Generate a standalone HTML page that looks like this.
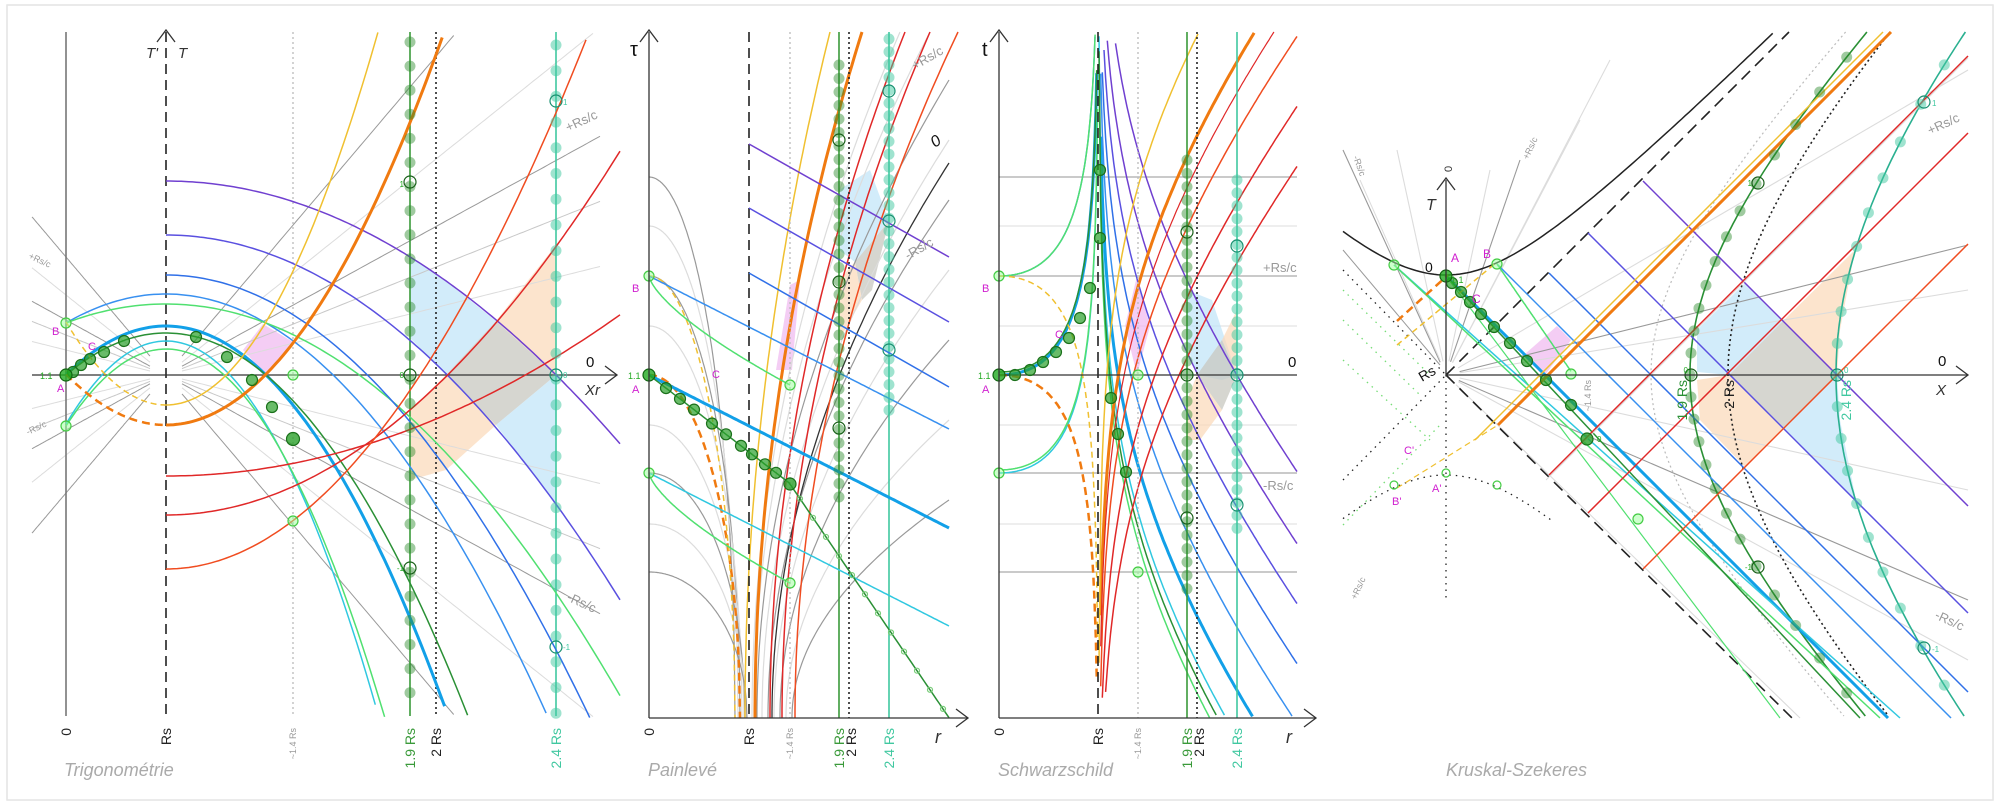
<!DOCTYPE html>
<html><head><meta charset="utf-8">
<style>
html,body{margin:0;padding:0;background:#fff;}
svg{display:block;}
text{font-family:"Liberation Sans",sans-serif;}
</style></head>
<body>
<svg id="s" width="2000" height="805" viewBox="0 0 2000 805" xmlns="http://www.w3.org/2000/svg"></svg>
<script>
var o=[];
function L(x1,y1,x2,y2,c,w,d){o.push('<line x1="'+x1+'" y1="'+y1+'" x2="'+x2+'" y2="'+y2+'" stroke="'+c+'" stroke-width="'+(w||1)+'"'+(d?' stroke-dasharray="'+d+'"':'')+'/>');}
function PL(pts,c,w,d,f,op){var s=pts.map(function(p){return p[0].toFixed(1)+','+p[1].toFixed(1)}).join(' ');
 if(f)o.push('<polygon points="'+s+'" fill="'+f+'" fill-opacity="'+(op||1)+'" stroke="none"/>');
 else o.push('<polyline points="'+s+'" fill="none" stroke="'+c+'" stroke-width="'+(w||1)+'"'+(d?' stroke-dasharray="'+d+'"':'')+'/>');}
function F(f,x0,x1,c,w,d,ymin,ymax){ymin=ymin==null?32:ymin;ymax=ymax==null?718:ymax;var p=[],n=120;
 for(var i=0;i<=n;i++){var x=x0+(x1-x0)*i/n,y=f(x);if(isNaN(y))continue;if(y<ymin||y>ymax){if(p.length>1){PL(p,c,w,d);}p=[];continue;}p.push([x,y]);}
 if(p.length>1)PL(p,c,w,d);}
function C(x,y,r,f,st,op){o.push('<circle cx="'+x+'" cy="'+y+'" r="'+r+'" fill="'+(f||'none')+'" fill-opacity="'+(op==null?0.6:op)+'" stroke="'+(st||'none')+'" stroke-width="1.2"/>');}
function T(x,y,t,sz,c,extra){o.push('<text x="'+x+'" y="'+y+'" font-size="'+sz+'" fill="'+c+'" '+(extra||'')+'>'+t+'</text>');}
function RT(x,y,t,sz,c){o.push('<text transform="translate('+x+','+y+') rotate(-90)" text-anchor="end" font-size="'+sz+'" fill="'+c+'" dy="'+(sz*0.35)+'">'+t+'</text>');}
function AR(x,y,dir){ if(dir=='u')PL([[x-9,y+12],[x,y],[x+9,y+12]],'#333',1.3); else PL([[x-12,y-9],[x,y],[x-12,y+9]],'#333',1.3);}
var PUR='#7040d0',PUR2='#5a50e0',BL='#3070e8',BL2='#3890f0',TB='#12a0e8',GL='#50e070',DG='#2a9035',CY='#30c8e0',RD='#e02828',RO='#f04c20',OR='#f07a10',YE='#f0c030',GR='#999',LG='#dcdcdc',TE='#40c8a0',GC='#3a9a3a',MG='#d020d0';
o.push('<rect x="7" y="5" width="1986" height="795" fill="none" stroke="#e4e4e4" stroke-width="1.5"/>');

// ================= Panel 1 =================
(function(){
var cx=166,cy=375;
PL([[410,256],[446,281],[496,321],[446,375],[410,338]],0,0,0,'#bfe4f8',0.7);
PL([[496,321],[556,245],[556,375]],0,0,0,'#fbd9b8',0.7);
PL([[446,375],[496,321],[556,375],[496,425]],0,0,0,'#c8c8c0',0.75);
PL([[410,410],[446,375],[496,425],[446,470],[410,480]],0,0,0,'#fbd9b8',0.7);
PL([[496,425],[556,375],[556,505]],0,0,0,'#bfe4f8',0.7);
PL([[263,324],[293,342],[266,375],[243,350]],0,0,0,'#f0b8f0',0.7);
[[-1.18,GR],[-0.55,GR],[0.55,GR],[1.18,GR],[-0.8,LG],[-0.25,LG],[0.25,LG],[0.8,LG],[-0.4,'#c8c8c8'],[0.4,'#c8c8c8']].forEach(function(a){
 var m=a[0];F(function(x){return cy+m*(x-cx)},182,600,a[1],1);F(function(x){return cy+m*(x-cx)},32,150,a[1],1);});
L(66,32,66,716,'#777',1.6);
L(166,32,166,716,'#222',1.6,'10,6');AR(166,30,'u');
L(293,32,293,716,'#bbb',1.3,'2,3');
L(410,32,410,716,GC,1.6);
L(436,32,436,716,'#222',1.6,'2,3');
L(556,32,556,716,TE,1.6);
L(32,375,617,375,'#333',1.3);AR(617,375,'r');
function par(top,k,x0,c,w,d){F(function(x){return top+k*(x-cx)*(x-cx)},x0,620,c,w,d);}
par(294,0.0029,66,BL2,1.5);par(304,0.0019,66,GL,1.5);par(326,0.0049,66,TB,3);par(333,0.0042,66,DG,1.5);
par(341,0.0083,66,CY,1.5);par(349,0.0077,66,GL,1.5);
par(181,0.001275,166,PUR,1.5);par(235,0.00177,166,PUR2,1.5);par(275,0.002465,166,BL,1.5);
par(476,-0.000782,166,RD,1.5);par(515,-0.001765,166,RD,1.5);par(569,-0.003,166,RO,1.5);
par(425,-0.00508,166,OR,3);par(405,-0.0083,166,YE,1.5);
F(function(x){return 425-0.00508*(x-cx)*(x-cx)},66,166,OR,2.5,'8,5');
F(function(x){return 405-0.0083*(x-cx)*(x-cx)},66,166,YE,1.5,'6,4');
for(var y=42;y<716;y+=24.1){C(410,y,5.5,'#2a8a2a',null,0.45);}
[182,375,568].forEach(function(y){C(410,y,6,'none','#185f18',1)});
for(var y=45;y<716;y+=25.7){C(556,y,5.5,TE,null,0.5);}
[101,375,647].forEach(function(y){C(556,y,6,'none','#189070',1)});
[[73,372],[81,365],[90,359],[104,352],[124,341],[196,337],[227,357],[252,380],[272,407]].forEach(function(p){C(p[0],p[1],5.5,'#2aa02a','#1a701a',0.7)});
C(293,439,6.5,'#2aa02a','#1a701a',0.8);
C(66,323,5,'#9f9','#4c4',0.5);C(66,375,6,'#2a2','#161',0.8);C(66,426,5,'#9f9','#4c4',0.5);
C(293,375,5,'#9f9','#4c4',0.5);C(293,521,5,'#9f9','#4c4',0.5);
T(52,335,'B',11,MG);T(88,350,'C',11,MG);T(57,392,'A',11,MG);T(40,379,'1.1',9,'#2a2');
T(178,58,'T',15,'#333','font-family="Liberation Serif" font-style="italic"');
T(146,58,'T\'',15,'#333','font-family="Liberation Serif" font-style="italic"');
T(586,367,'0',15,'#111');T(585,395,'Xr',15,'#333','font-family="Liberation Serif" font-style="italic"');
o.push('<text transform="translate(568,132) rotate(-25)" font-size="13" fill="#999">+Rs/c</text>');
o.push('<text transform="translate(566,600) rotate(25)" font-size="13" fill="#999">-Rs/c</text>');
o.push('<text transform="translate(28,258) rotate(25)" font-size="9" fill="#999">+Rs/c</text>');
o.push('<text transform="translate(28,435) rotate(-25)" font-size="9" fill="#999">-Rs/c</text>');
T(404,187,'1',8,'#2a2','text-anchor="end"');T(404,378,'0',8,'#2a2','text-anchor="end"');T(404,571,'-1',8,'#2a2','text-anchor="end"');
T(563,105,'1',8,TE);T(563,378,'0',8,TE);T(563,650,'-1',8,TE);
RT(66,728,'0',14,'#222');RT(166,728,'Rs',14,'#222');RT(293,728,'~1.4 Rs',9,'#999');RT(410,728,'1.9 Rs',14,GC);RT(436,728,'2 Rs',14,'#222');RT(556,728,'2.4 Rs',14,TE);
T(64,776,'Trigonométrie',18,'#aaa','font-style="italic"');
})();

// ================= Panel 2 Painlevé =================
(function(){
var ax=649,rs=749;
PL([[839,190],[870,170],[889,221],[855,262],[839,250]],0,0,0,'#bfe4f8',0.7);
PL([[855,262],[889,221],[872,290],[862,300]],0,0,0,'#c8c8c0',0.75);
PL([[839,280],[855,262],[862,300],[839,340]],0,0,0,'#fbd9b8',0.7);
PL([[790,285],[800,280],[792,370],[776,370]],0,0,0,'#f0b8f0',0.7);
[[177,735,GR],[226,738,LG],[276,740,GR],[326,742,LG],[425,744,LG],[473,745,GR],[524,746,LG],[572,747,GR]].forEach(function(a){
 var y0=a[0],xe=a[1];F(function(x){var t=(x-ax)/(xe-ax);if(t>1)t=1;return y0+(718-y0)*(1-Math.sqrt(1-t*t));},ax,xe,a[2],1.2);});
function R(xb,xe,ye,c,w,d,p){var pts=[];p=p||2;for(var i=0;i<=80;i++){var s=i/80;pts.push([xb+(xe-xb)*Math.pow(s,p),718-(718-ye)*s]);}PL(pts,c,w,d);}
R(757,949,80,GR,1.2);R(762,949,140,LG,1.2);R(768,949,200,GR,1.2);R(774,949,270,LG,1.2);R(780,949,340,GR,1.2);R(786,949,420,LG,1.2);R(792,949,500,GR,1.2);
R(752,900,32,LG,1.2);R(754,930,32,LG,1.2);
R(772,949,163,'#333',1.3);
R(745,830,32,YE,1.5);R(755,862,32,OR,3);R(770,905,32,RD,1.5);R(782,930,32,RD,1.5);R(795,958,32,RO,1.5);
F(function(x){var t=(x-ax)/(740-ax);if(t>1)t=1;return 375+343*(1-Math.sqrt(1-t*t));},ax,740,OR,2.5,'8,5');
F(function(x){var t=(x-ax)/(735-ax);if(t>1)t=1;return 276+442*(1-Math.sqrt(1-t*t));},ax,735,YE,1.5,'6,4');
L(rs,32,rs,718,'#222',1.6,'10,6');
L(790,32,790,718,'#bbb',1.3,'2,3');
L(839,32,839,718,GC,1.6);
L(849,32,849,718,'#222',1.6,'2,3');
L(889,32,889,718,TE,1.6);
L(749,144,949,257,PUR,1.5);L(749,208,949,322,PUR2,1.5);L(749,273,949,387,BL,1.5);
F(function(x){return 276+(x-ax)*0.51},ax,949,BL2,1.5);
F(function(x){return 375+(x-ax)*0.51},ax,949,TB,3);
F(function(x){return 473+(x-ax)*0.51},ax,949,CY,1.5);
F(function(x){var t=(x-ax)/141;return 276+109*Math.pow(t,0.7);},ax,790,GL,1.5);
F(function(x){var t=(x-ax)/141;return 473+110*Math.pow(t,0.7);},ax,790,GL,1.5);
F(function(x){return x<790?375+(x-ax)*0.77:484+(x-790)*1.47},ax,949,DG,1.5);
for(var y=65;y<=500;y+=13.5)C(839,y,5.5,'#2a8a2a',null,0.45);
[140,282,428].forEach(function(y){C(839,y,6,'none','#185f18',1)});
for(var y=39;y<=415;y+=12.8)C(889,y,5.5,TE,null,0.5);
[91,221,350].forEach(function(y){C(889,y,6,'none','#189070',1)});
[666,680,694,712,726,741,752,765,776].forEach(function(x){C(x,375+(x-ax)*0.77,5.5,'#2aa02a','#1a701a',0.7)});
C(790,484,6,'#2aa02a','#1a701a',0.8);
for(var x=800;x<949;x+=13)C(x,484+(x-790)*1.47,2.5,'none','#7c7',1);
C(ax,276,5,'#9f9','#4c4',0.5);C(ax,375,6,'#2a2','#161',0.8);C(ax,473,5,'#9f9','#4c4',0.5);C(790,385,5,'#9f9','#4c4',0.5);C(790,583,5,'#9f9','#4c4',0.5);
L(ax,718,ax,32,'#333',1.3);AR(ax,30,'u');L(ax,718,968,718,'#333',1.3);AR(968,718,'r');
T(630,56,'τ',20,'#111','font-family="Liberation Serif"');T(935,743,'r',18,'#333','font-family="Liberation Serif" font-style="italic"');
T(632,292,'B',11,MG);T(712,378,'C',11,MG);T(632,393,'A',11,MG);T(628,379,'1.1',9,'#2a2');
o.push('<text transform="translate(935,148) rotate(-35)" font-size="16" fill="#111" font-style="italic">0</text>');
o.push('<text transform="translate(915,70) rotate(-30)" font-size="13" fill="#999">+Rs/c</text>');
o.push('<text transform="translate(908,260) rotate(-30)" font-size="13" fill="#999">-Rs/c</text>');
RT(ax,728,'0',14,'#222');RT(rs,728,'Rs',14,'#222');RT(790,728,'~1.4 Rs',9,'#999');RT(839,728,'1.9 Rs',14,GC);RT(851,728,'2 Rs',14,'#222');RT(889,728,'2.4 Rs',14,TE);
T(648,776,'Painlevé',18,'#aaa','font-style="italic"');
})();

// ================= Panel 3 Schwarzschild =================
(function(){
var ax=999,rs=1098,S=100;
function u(x){return (x-ax)/99.5;}
function rst(x){var q=u(x);return q+Math.log(Math.abs(q-1));}
[[177,'#aaa'],[226,'#e4e4e4'],[276,'#aaa'],[326,'#e4e4e4'],[425,'#e4e4e4'],[473,'#aaa'],[524,'#e4e4e4'],[572,'#aaa']].forEach(function(a){L(ax,a[0],1297,a[0],a[1],1.2)});
PL([[1187,290],[1212,300],[1237,375],[1222,380],[1197,375],[1187,345]],0,0,0,'#bfe4f8',0.7);
PL([[1197,375],[1222,340],[1237,375],[1222,410]],0,0,0,'#c8c8c0',0.75);
PL([[1187,400],[1197,375],[1222,410],[1200,440],[1187,440]],0,0,0,'#fbd9b8',0.7);
PL([[1222,340],[1237,310],[1237,375]],0,0,0,'#fbd9b8',0.7);
PL([[1137,276],[1150,326],[1137,375],[1125,326]],0,0,0,'#f0b8f0',0.7);
function IN(v,c,w,d,x0,x1){F(function(x){return 375-S*(v-rst(x))},x0,x1,c,w,d);}
function OUT(wv,c,w,d,x0,x1){F(function(x){return 375-S*(rst(x)-wv)},x0,x1,c,w,d);}
IN(-0.43,TB,3,0,1099,1297);IN(0.2,BL2,1.5,0,1099,1297);IN(0.8,BL,1.5,0,1099,1297);IN(1.4,PUR2,1.5,0,1099,1297);IN(2.0,PUR,1.5,0,1099,1297);IN(2.72,PUR,1.5,0,1099,1297);
IN(-0.9,CY,1.5,0,1099,1297);IN(-1.2,GL,1.5,0,1099,1297);IN(-1.05,DG,1.5,0,1099,1297);
OUT(-0.41,OR,3,0,1099,1297);OUT(-1.41,YE,1.5,0,1099,1297);OUT(0.3,RO,1.5,0,1099,1297);OUT(1.0,RD,1.5,0,1099,1297);OUT(1.6,RD,1.5,0,1099,1297);
OUT(-0.1,RD,1.2,0,1099,1297);
IN(0.99,BL2,1.5,0,ax,1097.5);IN(0.99,GL,1.5,0,ax+3,1097.5);IN(0,TB,3,0,ax,1097.5);IN(0.03,DG,1.5,0,ax,1097.5);IN(-0.98,CY,1.5,0,ax,1097.5);IN(-0.95,GL,1.5,0,ax+3,1097.5);
OUT(0,OR,2.5,'8,5',ax,1097.5);OUT(-0.99,YE,1.5,'6,4',ax,1097.5);
L(rs,32,rs,718,'#222',1.6,'10,6');
L(1138,32,1138,718,'#bbb',1.3,'2,3');
L(1187,32,1187,718,GC,1.6);L(1197,32,1197,718,'#222',1.6,'2,3');L(1237,32,1237,718,TE,1.6);
L(ax,375,1297,375,'#333',1.3);
for(var y=160;y<=590;y+=13.4)C(1187,y,5.5,'#2a8a2a',null,0.45);
[232,375,518].forEach(function(y){C(1187,y,6,'none','#185f18',1)});
for(var y=180;y<=540;y+=12.9)C(1237,y,5.5,TE,null,0.5);
[246,375,505].forEach(function(y){C(1237,y,6,'none','#189070',1)});
[[1015,375],[1030,370],[1043,362],[1056,352],[1069,338],[1080,318],[1090,288],[1100,238],[1100,170],[1111,398],[1118,434],[1126,472]].forEach(function(p){C(p[0],p[1],5.5,'#2aa02a','#1a701a',0.7)});
C(ax,276,5,'#9f9','#4c4',0.5);C(ax,375,6,'#2a2','#161',0.8);C(ax,473,5,'#9f9','#4c4',0.5);C(1138,375,5,'#9f9','#4c4',0.5);C(1138,572,5,'#9f9','#4c4',0.5);
L(ax,718,ax,32,'#333',1.3);AR(ax,30,'u');L(ax,718,1316,718,'#333',1.3);AR(1316,718,'r');
T(982,56,'t',20,'#111','font-family="Liberation Serif"');T(1286,743,'r',18,'#333','font-family="Liberation Serif" font-style="italic"');
T(1288,367,'0',15,'#111');
T(1263,272,'+Rs/c',13,'#999');T(1263,490,'-Rs/c',13,'#999');
T(982,292,'B',11,MG);T(1055,338,'C',11,MG);T(982,393,'A',11,MG);T(978,379,'1.1',9,'#2a2');
RT(ax,728,'0',14,'#222');RT(rs,728,'Rs',14,'#222');RT(1138,728,'~1.4 Rs',9,'#999');RT(1187,728,'1.9 Rs',14,GC);RT(1199,728,'2 Rs',14,'#222');RT(1237,728,'2.4 Rs',14,TE);
T(998,776,'Schwarzschild',18,'#aaa','font-style="italic"');
})();

// ================= Panel 4 Kruskal =================
(function(){
var ox=1446,oy=375;
PL([[1697,330],[1745,283],[1783,321],[1729,375],[1697,372]],0,0,0,'#bfe4f8',0.7);
PL([[1783,321],[1855,250],[1840,330],[1837,375]],0,0,0,'#fbd9b8',0.7);
PL([[1729,375],[1783,321],[1837,375],[1783,429]],0,0,0,'#c8c8c0',0.75);
PL([[1697,380],[1729,375],[1783,429],[1745,467],[1700,420]],0,0,0,'#fbd9b8',0.7);
PL([[1783,429],[1837,375],[1840,420],[1856,500]],0,0,0,'#bfe4f8',0.7);
PL([[1525,354],[1557,326],[1571,340],[1545,375]],0,0,0,'#f0b8f0',0.7);
[[1343,150,GR],[1397,150,LG],[1490,170,LG],[1520,160,GR],[1580,120,LG],[1610,60,LG],[1968,70,LG],[1968,245,GR],[1968,290,LG],[1968,490,LG],[1968,600,GR],[1968,660,LG],[1800,718,LG]].forEach(function(a){
 var dx=a[0]-ox,dy=a[1]-oy,l=Math.sqrt(dx*dx+dy*dy);L(ox+dx*14/l,oy+dy*14/l,a[0],a[1],a[2],1.1);});
L(1343,250,1440,365,GR,1);L(1360,180,1440,360,LG,1);
L(ox,oy,1789,32,'#222',1.6,'12,7');L(ox,oy,1792,718,'#222',1.6,'12,7');
F(function(x){return oy-Math.sqrt(10000+(x-ox)*(x-ox))},1343,1780,'#222',1.5);
F(function(x){return oy+Math.sqrt(10000+(x-ox)*(x-ox))},1343,1551,'#222',1.3,'1.5,5');
L(1343,270,1446,375,'#222',1.3,'1.5,5');L(1343,480,1446,375,'#222',1.3,'1.5,5');L(ox,oy,ox,600,'#222',1.3,'1.5,5');
L(1343,290,1430,375,'#7d7',1.3,'1.5,5');L(1343,320,1420,395,'#7d7',1.3,'1.5,5');L(1343,360,1430,440,'#7d7',1.3,'1.5,5');L(1343,525,1440,425,'#7d7',1.3,'1.5,5');
function H(a,c,w,d){var p=[];for(var y=32;y<=718;y+=4)p.push([ox+Math.sqrt(a*a+(y-oy)*(y-oy)),y]);PL(p,c,w,d);}
H(282,'#222',1.6,'2,3');H(244,DG,1.6);H(390,'#2ab090',1.6);H(205,'#bbb',1.2,'2,3');
function DR(x,y,c,w){var l=Math.min(1968-x,718-y);L(x,y,x+l,y+l,c,w);}
function UR(x,y,c,w){var l=Math.min(1968-x,y-32);L(x,y,x+l,y-l,c,w);}
DR(1643,181,PUR,1.5);DR(1588,233,PUR2,1.5);DR(1549,273,BL,1.5);DR(1497,264,BL2,1.5);DR(ox,276,TB,3);
L(1394,265,1900,718,CY,1.5);L(1394,265,1880,718,GL,1.5);L(ox,276,1860,718,DG,1.5);
F(function(x){return 264+(x-1497)*1.45},1497,1571,GL,1.5);
L(1446,276,1780,718,GL,1.2);
UR(1549,475,RD,1.5);UR(1588,513,RD,1.5);UR(1643,569,RO,1.5);UR(1498,425,OR,3);
UR(1475,440,YE,1.5);UR(1546,480,LG,1);
L(1397,321,1448,275,OR,2.5,'8,5');L(1397,345,1497,262,YE,1.5,'6,4');
L(1397,488,1498,425,YE,1.2,'6,4');
for(var k=-13;k<=13;k++){var th=k*0.09,x=ox+244*Math.cosh(th),y=oy-244*Math.sinh(th);if(y>40&&y<710)C(x,y,5.5,'#2a8a2a',null,0.45);}
for(var k=-11;k<=11;k++){var th=k*0.081,x=ox+390*Math.cosh(th),y=oy-390*Math.sinh(th);if(y>34&&y<716)C(x,y,5.5,TE,null,0.5);}
C(1691,375,6,'none','#185f18',1);C(1758,183,6,'none','#185f18',1);C(1758,567,6,'none','#185f18',1);
C(1837,375,6,'none','#189070',1);C(1924,102,6,'none','#189070',1);C(1924,648,6,'none','#189070',1);
[[1452,283],[1461,292],[1470,302],[1481,314],[1494,327],[1510,343],[1527,361],[1546,380],[1571,405]].forEach(function(p){C(p[0],p[1],5.5,'#2aa02a','#1a701a',0.7)});
C(1587,439,6,'#2aa02a','#1a701a',0.8);
C(1394,265,5,'#9f9','#4c4',0.5);C(ox,276,6,'#2a2','#161',0.8);C(1497,264,5,'#9f9','#4c4',0.5);C(1571,374,5,'#9f9','#4c4',0.5);C(1638,519,5,'#9f9','#4c4',0.5);
C(1446,473,4,'none','#4c4',1);C(1394,485,4,'none','#4c4',1);C(1497,485,4,'none','#4c4',1);
L(ox,oy,1968,oy,'#333',1.3);AR(1968,oy,'r');L(ox,oy,ox,180,'#333',1.3);AR(ox,178,'u');
T(1426,210,'T',16,'#333','font-family="Liberation Serif" font-style="italic"');
o.push('<text transform="translate(1452,172) rotate(-90)" font-size="11" fill="#333">0</text>');
T(1425,272,'0',14,'#111');T(1451,262,'A',12,MG);T(1451,283,'1.1',9,'#2a2');T(1483,258,'B',12,MG);T(1472,303,'C',12,MG);
o.push('<text transform="translate(1422,382) rotate(-30)" font-size="14" fill="#111">Rs</text>');
T(1404,454,'C\'',11,MG);T(1432,492,'A\'',11,MG);T(1392,505,'B\'',11,MG);
T(1938,366,'0',15,'#111');T(1936,395,'X',15,'#333','font-family="Liberation Serif" font-style="italic"');
o.push('<text transform="translate(1930,135) rotate(-25)" font-size="13" fill="#999">+Rs/c</text>');
o.push('<text transform="translate(1934,618) rotate(25)" font-size="13" fill="#999">-Rs/c</text>');
o.push('<text transform="translate(1353,157) rotate(70)" font-size="9" fill="#999">-Rs/c</text>');
o.push('<text transform="translate(1528,160) rotate(-65)" font-size="9" fill="#999">+Rs/c</text>');
o.push('<text transform="translate(1356,600) rotate(-65)" font-size="9" fill="#999">+Rs/c</text>');
RT(1682,380,'1.9 Rs',14,DG);RT(1729,380,'2 Rs',14,'#222');RT(1846,380,'2.4 Rs',14,TE);RT(1588,380,'~1.4 Rs',9,'#999');
T(1688,373,'0',8,'#2a2','text-anchor="end"');T(1752,186,'1',8,'#2a2','text-anchor="end"');T(1752,570,'-1',8,'#2a2','text-anchor="end"');
T(1844,373,'0',8,TE);T(1932,106,'1',8,TE);T(1932,652,'-1',8,TE);T(1597,442,'0',8,'#2a2');
T(1446,776,'Kruskal-Szekeres',18,'#aaa','font-style="italic"');
})();
document.getElementById('s').innerHTML=o.join('');
</script>
</body></html>
